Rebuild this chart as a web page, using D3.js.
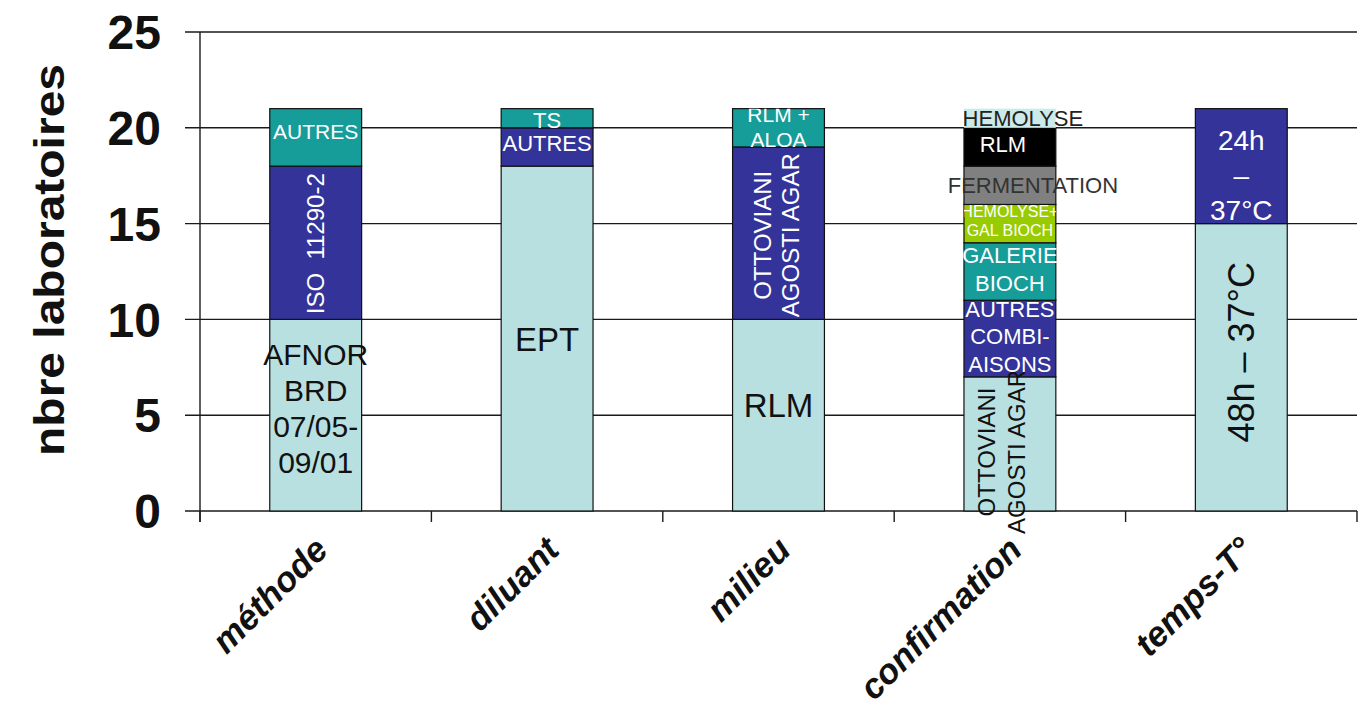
<!DOCTYPE html>
<html>
<head>
<meta charset="utf-8">
<script src="https://cdn.jsdelivr.net/npm/d3@7"></script>
<style>
  html, body { margin: 0; padding: 0; background: #ffffff; }
  svg { display: block; font-family: "Liberation Sans", Arial, sans-serif; }
</style>
</head>
<body>
<svg id="chart" width="1367" height="708"></svg>
<script>
// Survey of laboratory practices: number of labs per choice, for each step
const categories = ["méthode", "diluant", "milieu", "confirmation", "temps-T°"];

const segmentValues = [
  [10, 8, 3],
  [18, 2, 1],
  [10, 9, 2],
  [7, 4, 3, 2, 2, 2, 1],
  [15, 6]
];

const segmentGroups = [
  ["base", "blue", "teal"],
  ["base", "blue", "teal"],
  ["base", "blue", "teal"],
  ["base", "blue", "teal", "green", "gray", "black", "pale"],
  ["base", "blue"]
];

const segmentLabels = [
  ["AFNOR\nBRD\n07/05-\n09/01", "ISO  11290-2", "AUTRES"],
  ["EPT", "AUTRES", "TS"],
  ["RLM", "OTTOVIANI\nAGOSTI AGAR", "RLM +\nALOA"],
  ["OTTOVIANI\nAGOSTI AGAR", "AUTRES\nCOMBI-\nAISONS", "GALERIE\nBIOCH", "HEMOLYSE+\nGAL BIOCH", "FERMENTATION", "RLM", "HEMOLYSE"],
  ["48h – 37°C", "24h\n–\n37°C"]
];

const yTicks = [0, 5, 10, 15, 20, 25];
const yTitle = "nbre laboratoires";

// ---- styling ----
const groupColors = {
  base: "#b8e0e1",
  blue: "#333399",
  teal: "#169c99",
  green: "#99cc00",
  gray: "#808080",
  black: "#000000",
  pale: "#cdeaea"
};

// per-label text style: size, fill, rotation, line height, nudges, clipping to bar
const labelStyle = [
  [
    { size: 30, fill: "#111", lh: 36, dy: -7 },
    { size: 24, fill: "#fff", rot: true, dy: 1 },
    { size: 21, fill: "#fff", dy: -6 }
  ],
  [
    { size: 33, fill: "#111", dy: 1 },
    { size: 22, fill: "#fff", dy: -4 },
    { size: 22, fill: "#fff", dy: 2, clip: true }
  ],
  [
    { size: 33, fill: "#111", dy: -10 },
    { size: 24, fill: "#fff", rot: true, lh: 28, dy: 2, dx: -2 },
    { size: 21, fill: "#fff", lh: 25, dy: -1, clip: true }
  ],
  [
    { size: 24, fill: "#111", rot: true, lh: 30, dy: 8, dx: -9 },
    { size: 22, fill: "#fff", lh: 27.5, dy: -2 },
    { size: 22, fill: "#fff", lh: 28, dy: -2 },
    { size: 16, fill: "#fff", lh: 19, dy: -3, clip: true },
    { size: 22, fill: "#333", dx: 23 },
    { size: 22, fill: "#fff", dy: -3, dx: -7 },
    { size: 22, fill: "#222", dx: 13 }
  ],
  [
    { size: 36, fill: "#111", rot: true, dy: -15 },
    { size: 28, fill: "#fff", lh: 35, dy: 9 }
  ]
];

const W = 1367, H = 708;
const plot = { left: 200, right: 1357, top: 32, bottom: 511 };

const svg = d3.select("#chart");

const x = d3.scaleBand()
  .domain(categories)
  .range([plot.left, plot.right])
  .padding(0);

const y = d3.scaleLinear()
  .domain([0, 25])
  .range([plot.bottom, plot.top]);

const barW = x.bandwidth() * 0.397;

// horizontal gridlines with small outside ticks
const grid = svg.append("g");
grid.selectAll("line")
  .data(yTicks)
  .join("line")
  .attr("x1", plot.left - 15)
  .attr("x2", plot.right)
  .attr("y1", d => y(d))
  .attr("y2", d => y(d))
  .attr("stroke", "#1a1a1a")
  .attr("stroke-width", 1.4);

// y axis line
svg.append("line")
  .attr("x1", plot.left).attr("x2", plot.left)
  .attr("y1", y(25)).attr("y2", plot.bottom + 11)
  .attr("stroke", "#1a1a1a").attr("stroke-width", 1.4);

// x category ticks at band boundaries
const boundaries = categories.map(c => x(c)).concat([x(categories[categories.length - 1]) + x.bandwidth()]);
svg.append("g").selectAll("line")
  .data(boundaries)
  .join("line")
  .attr("x1", d => d).attr("x2", d => d)
  .attr("y1", plot.bottom).attr("y2", plot.bottom + 11)
  .attr("stroke", "#1a1a1a").attr("stroke-width", 1.4);

// y tick labels
svg.append("g").selectAll("text")
  .data(yTicks)
  .join("text")
  .attr("x", 161)
  .attr("y", d => y(d))
  .attr("dy", "0.36em")
  .attr("text-anchor", "end")
  .attr("font-size", 48)
  .attr("font-weight", "bold")
  .attr("fill", "#111")
  .text(d => d);

// y title
svg.append("text")
  .attr("transform", `translate(64, 260) rotate(-90)`)
  .attr("text-anchor", "middle")
  .attr("font-size", 42)
  .attr("font-weight", "bold")
  .attr("fill", "#111")
  .attr("textLength", 392)
  .attr("lengthAdjust", "spacingAndGlyphs")
  .text(yTitle);

// build stacked segments
const segments = [];
categories.forEach((cat, ci) => {
  let acc = 0;
  segmentValues[ci].forEach((v, si) => {
    segments.push({
      cat, ci, si,
      y0: acc, y1: acc + v,
      group: segmentGroups[ci][si],
      label: segmentLabels[ci][si],
      style: labelStyle[ci][si]
    });
    acc += v;
  });
});

const defs = svg.append("defs");
categories.forEach((cat, ci) => {
  const total = d3.sum(segmentValues[ci]);
  defs.append("clipPath").attr("id", "bar-clip-" + ci)
    .append("rect")
    .attr("x", x(cat) + (x.bandwidth() - barW) / 2)
    .attr("y", y(total))
    .attr("width", barW)
    .attr("height", y(0) - y(total));
});

const bars = svg.append("g");
bars.selectAll("rect")
  .data(segments)
  .join("rect")
  .attr("x", d => x(d.cat) + (x.bandwidth() - barW) / 2)
  .attr("y", d => y(d.y1))
  .attr("width", barW)
  .attr("height", d => y(d.y0) - y(d.y1))
  .attr("fill", d => groupColors[d.group])
  .attr("stroke", d => d.group === "pale" ? "none" : "#111")
  .attr("stroke-width", 1.2);

// segment labels
const labels = svg.append("g");
segments.forEach(d => {
  const s = d.style;
  const cx = x(d.cat) + x.bandwidth() / 2 + (s.dx || 0);
  const cy = (y(d.y0) + y(d.y1)) / 2 + (s.dy || 0);
  const lines = d.label.split("\n");
  const lh = s.lh || s.size * 1.2;
  const g = labels.append("g");
  if (s.clip) g.attr("clip-path", `url(#bar-clip-${d.ci})`);
  const t = g.append("text")
    .attr("transform", s.rot ? `translate(${cx},${cy}) rotate(-90)` : `translate(${cx},${cy})`)
    .attr("text-anchor", "middle")
    .attr("font-size", s.size)
    .attr("fill", s.fill)
    .attr("style", "white-space: pre");
  lines.forEach((ln, i) => {
    t.append("tspan")
      .attr("x", 0)
      .attr("y", (i - (lines.length - 1) / 2) * lh)
      .attr("dy", "0.36em")
      .text(ln);
  });
});

// x category labels, slanted
svg.append("g").selectAll("text")
  .data(categories)
  .join("text")
  .attr("transform", d => `translate(${x(d) + x.bandwidth() / 2 + 14}, 552) rotate(-45)`)
  .attr("text-anchor", "end")
  .attr("font-size", 35)
  .attr("font-weight", "bold")
  .attr("font-style", "italic")
  .attr("fill", "#111")
  .text(d => d);
</script>
</body>
</html>
